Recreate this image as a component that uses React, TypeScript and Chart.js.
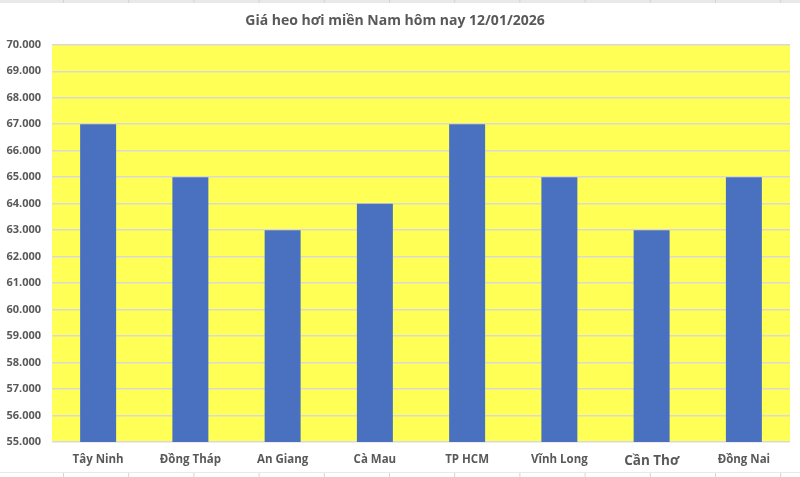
import React, { useEffect, useRef } from "react";
import { Chart, registerables } from "chart.js";

Chart.register(...registerables);

const title = "Giá heo hơi miền Nam hôm nay 12/01/2026";
const categories = ["Tây Ninh", "Đồng Tháp", "An Giang", "Cà Mau", "TP HCM", "Vĩnh Long", "Cần Thơ", "Đồng Nai"];
const prices = [67000, 65000, 63000, 64000, 67000, 65000, 63000, 65000];
const yMin = 55000;
const yMax = 70000;
const yStep = 1000;

const fmt = (v: number) => String(Math.round(v)).replace(/\B(?=(\d{3})+(?!\d))/g, ".");

const sheetBg = {
  id: "sheetBg",
  beforeDraw(chart: any) {
    const ctx = chart.ctx;
    const w = chart.width;
    const h = chart.height;
    ctx.save();
    ctx.fillStyle = "#ffffff";
    ctx.fillRect(0, 0, w, h);
    ctx.strokeStyle = "#d4d4d4";
    ctx.lineWidth = 1;
    ctx.fillStyle = "#e9e9e9";
    ctx.fillRect(0, 0, w, 3);
    ctx.fillRect(0, h - 5, w, 1);
    ctx.beginPath();
    for (let x = 63.5; x < w; x += 65.2) {
      ctx.moveTo(x, 0);
      ctx.lineTo(x, 3);
      ctx.moveTo(x, h - 4);
      ctx.lineTo(x, h);
    }
    ctx.stroke();
    const a = chart.chartArea;
    ctx.fillStyle = "#ffff55";
    ctx.fillRect(a.left, a.top, a.right - a.left, a.bottom - a.top);
    ctx.restore();
  },
};

export default function App() {
  const ref = useRef<HTMLCanvasElement | null>(null);
  useEffect(() => {
    if (!ref.current) return;
    const chart = new Chart(ref.current, {
      type: "bar",
      data: {
        labels: categories,
        datasets: [
          {
            data: prices,
            backgroundColor: "#4a70c0",
            borderWidth: 0,
            categoryPercentage: 1,
            barPercentage: 0.39,
          },
        ],
      },
      plugins: [sheetBg],
      options: {
        responsive: false,
        animation: false,
        devicePixelRatio: 1,
        layout: { padding: { left: 0, right: 10, top: 0, bottom: 0 } },
        plugins: {
          legend: { display: false },
          tooltip: { enabled: false },
          title: {
            display: true,
            text: title,
            color: "#595959",
            font: { family: "Open Sans", size: 14, weight: "bold" },
            padding: { top: 13, bottom: 15 },
          },
        },
        scales: {
          x: {
            grid: { display: false, drawTicks: false },
            border: { display: false },
            ticks: {
              color: "#595959",
              padding: 11,
              maxRotation: 0,
              font: (ctx: any) =>
                ctx.index === 6
                  ? { family: "Open Sans", size: 13.5, weight: "bold" }
                  : { family: "Open Sans", size: 11.5, weight: "bold" },
            },
            afterFit: (s: any) => {
              s.height = 35;
            },
          },
          y: {
            min: yMin,
            max: yMax,
            grid: { color: "#d9d9d9", lineWidth: 1.5, drawTicks: false },
            border: { display: false },
            ticks: {
              stepSize: yStep,
              color: "#595959",
              padding: 11,
              font: { family: "Open Sans", size: 11, weight: "bold" },
              callback: (v: any) => fmt(Number(v)),
            },
            afterFit: (s: any) => {
              s.width = 52;
            },
          },
        },
      },
    });
    return () => chart.destroy();
  }, []);
  return (
    <div style={{ position: "fixed", left: 0, top: 0, width: 800, height: 477 }}>
      <canvas ref={ref} width={800} height={477} style={{ display: "block" }} />
    </div>
  );
}
